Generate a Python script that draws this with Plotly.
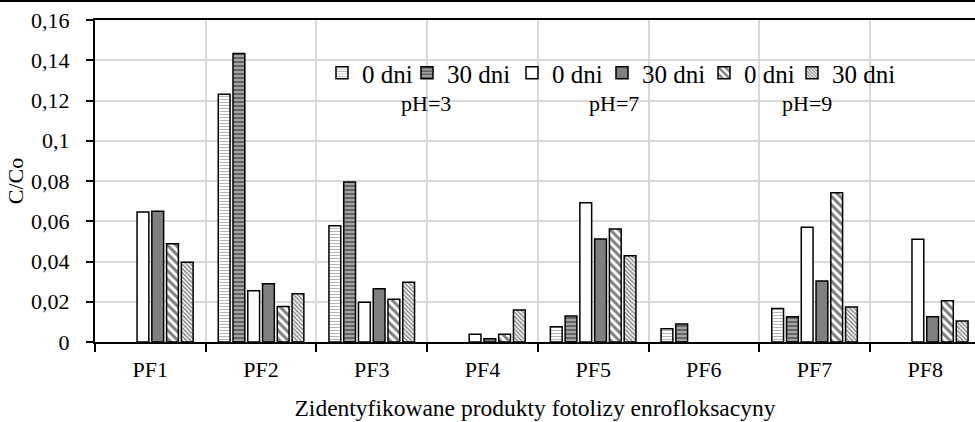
import plotly.graph_objects as go

# ---------------- data ----------------
categories = ["PF1", "PF2", "PF3", "PF4", "PF5", "PF6", "PF7", "PF8"]
ph3_day0 = [0, 0.1231, 0.0578, 0, 0.0076, 0.0066, 0.0167, 0]
ph3_day30 = [0, 0.1433, 0.0795, 0, 0.0129, 0.0090, 0.0126, 0]
ph7_day0 = [0.0646, 0.0255, 0.0197, 0.0038, 0.0692, 0, 0.0570, 0.0510]
ph7_day30 = [0.0650, 0.0290, 0.0265, 0.0016, 0.0512, 0, 0.0303, 0.0126]
ph9_day0 = [0.0488, 0.0177, 0.0212, 0.0038, 0.0561, 0, 0.0742, 0.0205]
ph9_day30 = [0.0396, 0.0240, 0.0297, 0.0159, 0.0429, 0, 0.0174, 0.0104]

series_values = [ph3_day0, ph3_day30, ph7_day0, ph7_day30, ph9_day0, ph9_day30]
series_names = ["0 dni", "30 dni", "0 dni", "30 dni", "0 dni", "30 dni"]
ph_labels = ["pH=3", "pH=7", "pH=9"]
y_tick_vals = [0, 0.02, 0.04, 0.06, 0.08, 0.10, 0.12, 0.14, 0.16]
y_tick_text = ["0", "0,02", "0,04", "0,06", "0,08", "0,1", "0,12", "0,14", "0,16"]
x_title = "Zidentyfikowane produkty fotolizy enrofloksacyny"
y_title = "C/Co"

# ---------------- layout / style ----------------
W, H = 975, 422
L, R, T, B = 95, 0, 20, 80
PW, PH = W - L - R, H - T - B
FONT = "Liberation Serif, Times New Roman, serif"

styles = [
    dict(color="white", pattern=dict(shape="-", fgcolor="#6e6e6e", bgcolor="white", size=3, solidity=0.35)),
    dict(color="#c8c8c8", pattern=dict(shape="-", fgcolor="black", bgcolor="#c8c8c8", size=4, solidity=0.68)),
    dict(color="white"),
    dict(color="#808080"),
    dict(color="white", pattern=dict(shape="\\", fgcolor="black", bgcolor="white", size=6, solidity=0.5)),
    dict(color="white", pattern=dict(shape="\\", fgcolor="#1e1e1e", bgcolor="white", size=3, solidity=0.55)),
]
legend_text_x = [360, 445, 550, 640, 742, 830]
legend_keys = ["legend", "legend2", "legend3", "legend4", "legend5", "legend6"]

fig = go.Figure()
for vals, name, st, lk in zip(series_values, series_names, styles, legend_keys):
    marker = dict(st)
    marker["line"] = dict(color="black", width=1.5)
    fig.add_trace(go.Bar(x=categories, y=[v if v else None for v in vals],
                         name=name, marker=marker, legend=lk))

legend_font = dict(family=FONT, size=25, color="black")
legend_layouts = {}
for lk, tx in zip(legend_keys, legend_text_x):
    legend_layouts[lk] = dict(
        x=(tx - 38) / W, xref="container", xanchor="left",
        y=1 - 73 / H, yref="container", yanchor="middle",
        bgcolor="rgba(0,0,0,0)", borderwidth=0,
        font=legend_font,
        orientation="h",
    )

def px_x(p):
    return (p - L) / PW

def px_y(p):
    return (H - B - p) / PH

ph_centers = [426, 614, 807]
annotations = [
    dict(text=t, x=px_x(cx), y=px_y(103), xref="paper", yref="paper",
         xanchor="center", yanchor="middle", showarrow=False,
         font=dict(family=FONT, size=22, color="black"))
    for t, cx in zip(ph_labels, ph_centers)
]

fig.update_layout(
    width=W, height=H,
    margin=dict(l=L, r=R, t=T, b=B, pad=0, autoexpand=False),
    paper_bgcolor="white", plot_bgcolor="white",
    barmode="group", bargap=0.2, bargroupgap=0.2,
    font=dict(family=FONT, size=22, color="black"),
    showlegend=True,
    annotations=annotations,
    shapes=[dict(type="line", xref="paper", yref="paper",
                 x0=-L / PW, x1=1, y0=px_y(1), y1=px_y(1),
                 line=dict(color="black", width=2))],
    **legend_layouts,
)

fig.update_xaxes(
    type="category", tickson="boundaries", range=[-0.5, -0.5 + PW / 110.7],
    showline=True, linecolor="black", linewidth=2, mirror=True,
    ticks="outside", ticklen=8, tickwidth=1.5, tickcolor="black",
    ticklabelstandoff=7,
    showgrid=True, gridcolor="#d9d9d9", gridwidth=1.5,
    tickfont=dict(family=FONT, size=22, color="black"),
    title=dict(text=x_title, font=dict(family=FONT, size=23.5, color="black"), standoff=18),
)
fig.update_yaxes(
    range=[0, 0.16], tickvals=y_tick_vals, ticktext=y_tick_text,
    showline=True, linecolor="black", linewidth=2,
    ticks="outside", ticklen=7, tickwidth=1.5, tickcolor="black",
    ticklabelstandoff=12,
    showgrid=True, gridcolor="#d9d9d9", gridwidth=1.5, zeroline=False,
    tickfont=dict(family=FONT, size=22, color="black"),
    title=dict(text=y_title, font=dict(family=FONT, size=22, color="black"), standoff=1),
)

fig.write_html("out.html")
